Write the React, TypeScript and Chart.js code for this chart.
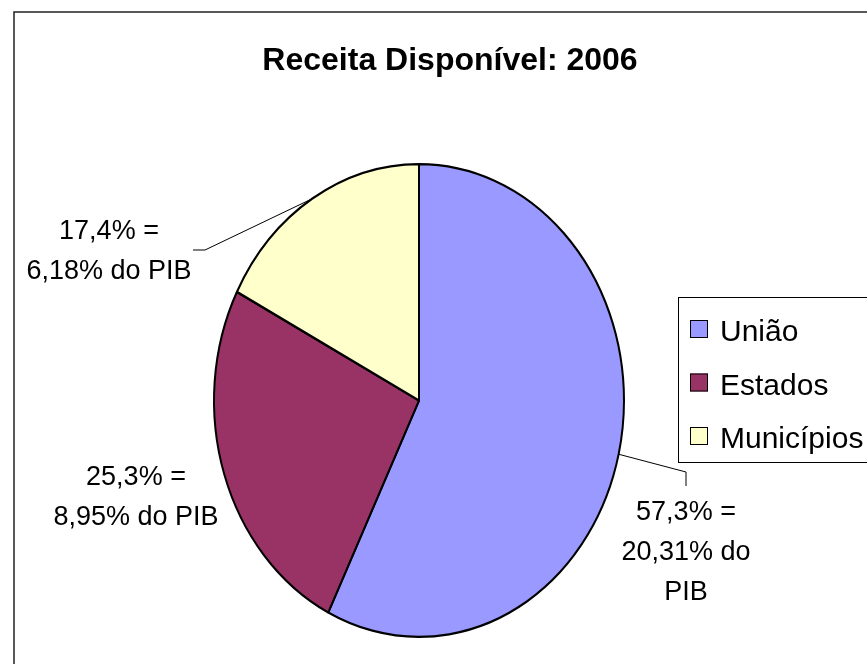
import React, { useEffect, useRef } from 'react';
import { Chart, registerables } from 'chart.js';

Chart.register(...registerables);

const categories = ['União', 'Estados', 'Municípios'];
const shares = [57.3, 25.3, 17.4];
const pibShares = [20.31, 8.95, 6.18];
const colors = ['#9999FF', '#993366', '#FFFFCC'];
const chartTitle = 'Receita Disponível: 2006';

const FONT = '"Liberation Sans", Arial, sans-serif';
const W = 867;
const H = 664;
const CX = 419;
const CY = 400.5;
const R = 206;
const SY = 237.5 / 206;

const fmt = (v: number, d: number) => v.toFixed(d).replace('.', ',');

const labelLines: string[][] = shares.map((s, i) =>
  i === 0
    ? [`${fmt(s, 1)}% =`, `${fmt(pibShares[i], 2)}% do`, 'PIB']
    : [`${fmt(s, 1)}% =`, `${fmt(pibShares[i], 2)}% do PIB`]
);

// label placement: center x, first baseline, optional leader line elbow
const labelPlace = [
  { x: 686, y: 520, elbow: [686, 472], end: [686, 486] },
  { x: 136, y: 485, elbow: null, end: null },
  { x: 109, y: 239, elbow: [205, 250], end: [193, 250] },
];

const ellipsePlugin = {
  id: 'ellipsePie',
  beforeDatasetsDraw(chart: any) {
    const arc = chart.getDatasetMeta(0).data[0];
    const ctx = chart.ctx;
    ctx.save();
    ctx.translate(arc.x, arc.y);
    ctx.scale(1, SY);
    ctx.translate(-arc.x, -arc.y);
  },
  afterDatasetsDraw(chart: any) {
    chart.ctx.restore();
  },
  afterDraw(chart: any) {
    const ctx = chart.ctx as CanvasRenderingContext2D;
    const meta = chart.getDatasetMeta(0);
    ctx.save();

    // outer frame
    ctx.strokeStyle = '#222';
    ctx.lineWidth = 1.5;
    ctx.strokeRect(14, 12, W + 20, H + 20);

    // title
    ctx.fillStyle = '#000';
    ctx.font = `bold 32px ${FONT}`;
    ctx.textAlign = 'center';
    ctx.textBaseline = 'alphabetic';
    ctx.fillText(chartTitle, 450, 70);

    // data labels + leader lines
    ctx.font = `27px ${FONT}`;
    meta.data.forEach((arc: any, i: number) => {
      const p = labelPlace[i];
      const lines = labelLines[i];
      lines.forEach((t, k) => ctx.fillText(t, p.x, p.y + k * 40));
      if (p.elbow && p.end) {
        const mid = (arc.startAngle + arc.endAngle) / 2;
        const ex = arc.x + Math.cos(mid) * arc.outerRadius;
        const ey = arc.y + Math.sin(mid) * arc.outerRadius * SY;
        ctx.beginPath();
        ctx.strokeStyle = '#000';
        ctx.lineWidth = 1;
        ctx.moveTo(ex, ey);
        ctx.lineTo(p.elbow[0], p.elbow[1]);
        ctx.lineTo(p.end[0], p.end[1]);
        ctx.stroke();
      }
    });

    // legend
    ctx.strokeStyle = '#000';
    ctx.lineWidth = 1;
    ctx.strokeRect(678.5, 297.5, 300, 165);
    ctx.font = `30px ${FONT}`;
    ctx.textAlign = 'left';
    const ds = chart.data.datasets[0];
    chart.data.labels.forEach((lab: string, i: number) => {
      const cy = 329 + i * 53.5;
      ctx.fillStyle = ds.backgroundColor[i];
      ctx.fillRect(690, cy - 9, 18, 18);
      ctx.strokeRect(690.5, cy - 8.5, 17, 17);
      ctx.fillStyle = '#000';
      ctx.fillText(lab, 720, cy + 12);
    });

    ctx.restore();
  },
};

export default function App() {
  const ref = useRef<HTMLCanvasElement>(null);

  useEffect(() => {
    if (!ref.current) return;
    const chart = new Chart(ref.current, {
      type: 'pie',
      data: {
        labels: categories,
        datasets: [
          {
            data: shares,
            backgroundColor: colors,
            borderColor: '#000',
            borderWidth: 2,
            clip: false,
          } as any,
        ],
      },
      options: {
        responsive: false,
        animation: false,
        devicePixelRatio: 1,
        events: [],
        layout: {
          padding: {
            left: CX - R,
            right: W - (CX + R),
            top: CY - R,
            bottom: H - (CY + R),
          },
        },
        plugins: {
          legend: { display: false },
          title: { display: false },
          tooltip: { enabled: false },
        },
      },
      plugins: [ellipsePlugin],
    });
    return () => chart.destroy();
  }, []);

  return (
    <div style={{ position: 'fixed', left: 0, top: 0, width: W, height: H, background: '#fff' }}>
      <canvas ref={ref} width={W} height={H} style={{ display: 'block' }} />
    </div>
  );
}
